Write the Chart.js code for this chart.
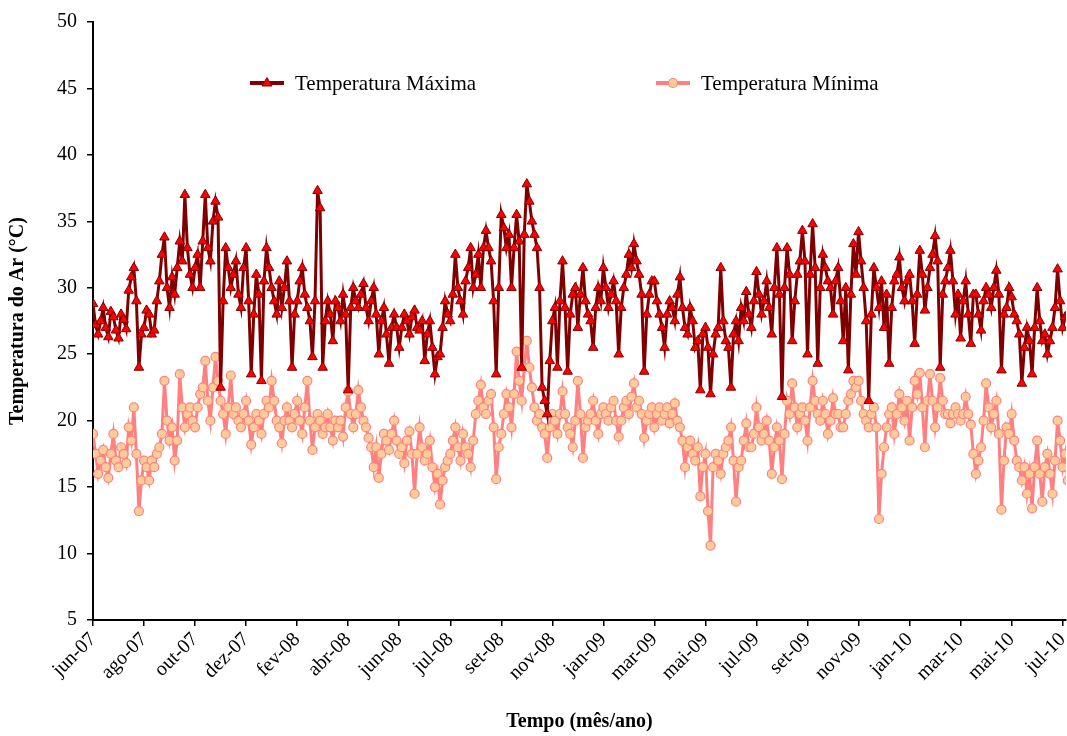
<!DOCTYPE html>
<html>
<head>
<meta charset="utf-8">
<script src="https://cdn.jsdelivr.net/npm/chart.js@4.4.1/dist/chart.umd.min.js"></script>
<style>
  body { margin: 0; background: #fff; }
  #wrap { position: relative; width: 1067px; height: 736px; }
  .leg { position: absolute; top: 71px; height: 24px; display: flex; align-items: center;
         font: 21px 'Liberation Serif', 'Times New Roman', serif; color: #000; white-space: nowrap; }
  .leg svg { margin-right: 9px; }
</style>
</head>
<body>
<div id="wrap">
  <canvas id="chart" width="1067" height="736"></canvas>
  <div class="leg" style="left:250px">
    <svg width="36" height="24"><line x1="0" y1="12" x2="34" y2="12" stroke="#800000" stroke-width="4"/>
      <polygon points="17,6.5 22,15 12,15" fill="#ff0000" stroke="#800000" stroke-width="1"/></svg>Temperatura Máxima
  </div>
  <div class="leg" style="left:656px">
    <svg width="36" height="24"><line x1="0" y1="12" x2="34" y2="12" stroke="#ff8080" stroke-width="4"/>
      <circle cx="17" cy="12" r="4.5" fill="#ffcc99" stroke="#ff8080" stroke-width="1.2"/></svg>Temperatura Mínima
  </div>
</div>
<script>
// tick labels, one every STEP samples
const months = ['jun-07', 'ago-07', 'out-07', 'dez-07', 'fev-08', 'abr-08', 'jun-08', 'jul-08', 'set-08', 'nov-08',
                'jan-09', 'mar-09', 'mai-09', 'jul-09', 'set-09', 'nov-09', 'jan-10', 'mar-10', 'mai-10', 'jul-10'];
const STEP = 20;

// Temperatura Máxima (°C) (20 samples per tick interval)
const tMax = [
  28.8, 27.2, 26.5, 27.5, 28.5, 27.0, 26.3, 28.2, 27.8, 26.8, 26.2, 28.0, 27.6, 26.9, 29.8, 30.8, 31.5, 29.0, 24.0, 26.5,
  27.0, 28.3, 28.0, 26.5, 26.8, 29.0, 30.5, 32.5, 33.8, 30.0, 28.5, 30.8, 29.5, 31.5, 33.5, 32.0, 37.0, 33.0, 31.0, 30.0,
  31.5, 32.5, 30.0, 33.5, 37.0, 33.0, 32.0, 35.0, 36.5, 35.3, 22.5, 29.0, 33.0, 31.5, 30.0, 31.0, 32.0, 29.5, 28.5, 31.5,
  33.0, 29.0, 23.5, 28.0, 31.0, 29.5, 23.0, 30.5, 33.0, 31.5, 30.0, 29.0, 28.0, 30.5, 28.5, 30.0, 32.0, 29.0, 24.0, 28.0,
  29.0, 30.5, 31.5, 29.5, 28.5, 27.5, 24.8, 29.0, 37.3, 36.0, 24.0, 27.5, 29.0, 28.0, 26.0, 29.0, 28.5, 27.5, 29.5, 28.0,
  22.3, 28.5, 30.0, 29.0, 28.5, 29.5, 30.3, 28.5, 27.5, 29.0, 30.0, 28.0, 25.0, 27.5, 28.5, 26.5, 24.3, 27.0, 28.0, 27.0,
  25.5, 27.0, 28.0, 27.5, 26.5, 27.8, 28.3, 27.0, 26.8, 27.5, 24.5, 26.5, 27.5, 25.5, 23.5, 24.8, 25.0, 27.0, 29.0, 28.0,
  27.5, 29.5, 32.5, 30.0, 29.0, 28.0, 30.5, 31.5, 33.0, 30.0, 31.0, 32.5, 30.0, 33.0, 34.3, 33.0, 32.0, 29.0, 23.5, 30.0,
  35.5, 34.5, 33.0, 34.0, 30.0, 33.0, 35.5, 33.5, 24.0, 34.0, 37.8, 36.5, 35.0, 34.0, 33.0, 30.0, 22.5, 21.5, 20.5, 24.5,
  27.5, 28.5, 24.0, 29.0, 32.0, 28.5, 23.7, 28.0, 29.5, 30.0, 27.0, 29.5, 31.5, 29.0, 28.0, 27.5, 25.5, 28.5, 30.0, 29.0,
  31.5, 30.0, 28.5, 29.5, 30.5, 29.0, 25.0, 28.5, 30.0, 31.0, 32.5, 31.5, 33.3, 32.0, 31.0, 29.5, 23.7, 28.0, 29.5, 30.5,
  30.5, 29.0, 28.0, 27.0, 25.5, 28.0, 29.0, 28.5, 27.5, 29.5, 30.8, 28.5, 27.0, 26.5, 28.5, 27.5, 25.5, 26.0, 22.3, 26.5,
  27.0, 25.5, 22.0, 25.0, 26.5, 27.0, 31.5, 27.5, 26.0, 25.5, 22.5, 26.5, 27.5, 26.0, 28.5, 27.5, 29.7, 28.0, 27.0, 29.0,
  31.2, 29.5, 28.0, 29.0, 30.5, 28.5, 26.5, 30.0, 33.0, 29.5, 21.8, 30.0, 33.0, 31.0, 26.0, 29.0, 31.0, 32.0, 34.3, 32.0,
  25.0, 31.0, 34.8, 31.5, 24.3, 30.0, 32.5, 31.5, 30.5, 30.0, 28.0, 30.5, 31.5, 29.0, 26.0, 30.0, 23.8, 29.5, 33.3, 31.0,
  34.2, 32.0, 30.0, 27.5, 21.5, 28.0, 31.5, 30.0, 28.5, 30.5, 27.0, 29.5, 24.3, 28.5, 30.5, 31.0, 32.3, 30.0, 29.0, 30.5,
  31.0, 29.0, 25.8, 29.5, 32.8, 31.0, 28.3, 30.0, 31.5, 32.5, 33.9, 32.0, 24.0, 29.5, 30.5, 31.5, 32.8, 30.5, 28.0, 29.5,
  26.2, 29.0, 30.5, 28.0, 25.8, 29.5, 29.5, 28.0, 26.8, 29.0, 30.0, 29.5, 28.5, 30.0, 31.3, 29.5, 23.8, 28.0, 28.5, 30.0,
  29.3, 28.0, 27.5, 26.5, 22.8, 25.5, 27.0, 26.0, 23.5, 27.0, 30.0, 27.5, 26.0, 26.5, 25.0, 26.0, 27.0, 28.5, 31.4, 29.0,
  27.0, 27.8, 28.0
];

// Temperatura Mínima (°C)
const tMin = [
  19.0, 17.5, 16.0, 17.0, 17.8, 16.5, 15.7, 17.5, 19.0, 17.0, 16.5, 18.0, 17.5, 16.8, 19.5, 18.5, 21.0, 17.5, 13.2, 15.5,
  17.0, 16.5, 15.5, 17.0, 16.5, 17.5, 18.0, 19.0, 23.0, 20.0, 18.5, 19.5, 17.0, 18.5, 23.5, 21.0, 19.5, 20.5, 21.0, 20.0,
  19.5, 21.0, 22.0, 22.5, 24.5, 21.5, 20.0, 22.5, 24.8, 23.0, 21.5, 20.5, 19.0, 21.0, 23.4, 20.5, 21.0, 20.0, 19.5, 20.5,
  21.5, 20.0, 18.2, 19.5, 20.5, 20.0, 19.0, 20.5, 21.5, 21.0, 23.0, 21.5, 20.0, 19.5, 18.3, 20.0, 21.0, 20.0, 19.5, 20.5,
  21.5, 20.0, 19.0, 21.0, 23.0, 20.0, 17.8, 19.5, 20.5, 20.0, 19.0, 19.5, 20.5, 19.5, 18.5, 20.0, 19.5, 20.0, 18.8, 21.0,
  22.2, 20.5, 19.5, 20.5, 22.3, 21.0, 20.0, 19.5, 18.7, 18.0, 16.5, 18.0, 15.7, 17.5, 19.0, 18.5, 17.8, 19.0, 20.0, 18.5,
  17.5, 18.0, 16.8, 18.5, 19.2, 17.5, 14.5, 17.5, 19.5, 18.0, 17.0, 17.5, 18.5, 16.5, 15.0, 16.0, 13.7, 15.5, 16.5, 17.0,
  17.5, 18.5, 19.5, 18.0, 17.0, 19.0, 18.0, 17.5, 16.5, 18.5, 20.5, 21.5, 22.7, 21.0, 20.5, 21.5, 22.0, 19.5, 15.6, 18.0,
  19.0, 20.5, 22.0, 21.0, 19.5, 22.0, 25.2, 23.0, 21.5, 24.0, 26.0, 24.0, 22.5, 21.0, 20.0, 20.5, 19.5, 19.0, 17.2, 19.5,
  20.5, 20.0, 19.0, 20.5, 22.2, 20.5, 19.5, 19.0, 18.0, 20.0, 23.0, 20.5, 17.2, 19.5, 20.0, 20.5, 21.5, 20.0, 19.0, 20.5,
  21.0, 20.5, 20.0, 21.0, 21.5, 20.0, 18.8, 20.0, 21.0, 21.5, 20.5, 21.8, 22.8, 21.0, 21.5, 20.5, 18.7, 20.0, 20.5, 21.0,
  19.5, 20.5, 21.0, 20.0, 20.5, 21.0, 19.8, 20.5, 21.3, 20.0, 19.5, 18.5, 16.5, 18.0, 18.5, 17.5, 17.0, 18.0, 14.3, 16.5,
  17.5, 13.2, 10.6, 16.5, 17.5, 17.0, 16.0, 17.5, 18.0, 18.5, 19.5, 17.0, 13.9, 16.5, 17.0, 18.5, 19.8, 18.0, 18.0, 19.0,
  21.0, 19.5, 18.5, 19.0, 20.0, 18.5, 16.0, 18.0, 19.5, 18.5, 15.6, 19.0, 21.5, 20.5, 22.8, 21.0, 19.5, 20.5, 21.0, 20.0,
  18.5, 21.0, 23.0, 21.5, 20.5, 20.0, 21.5, 20.5, 19.0, 20.0, 21.7, 20.5, 20.5, 19.5, 19.5, 20.5, 21.5, 22.0, 23.0, 22.5,
  23.0, 21.5, 20.5, 20.0, 19.5, 20.5, 21.0, 19.5, 12.6, 16.0, 18.0, 19.5, 20.5, 21.0, 19.0, 20.5, 22.0, 21.0, 20.0, 21.5,
  18.5, 21.0, 23.0, 22.0, 23.6, 21.0, 18.0, 21.5, 23.5, 21.5, 19.5, 21.0, 23.2, 21.5, 20.5, 20.5, 19.8, 20.5, 21.0, 20.5,
  20.0, 20.5, 21.8, 20.5, 19.7, 17.5, 16.0, 17.0, 18.0, 20.0, 22.8, 21.0, 19.5, 20.5, 21.5, 19.0, 13.3, 17.0, 19.5, 19.0,
  20.5, 18.5, 17.0, 16.5, 15.5, 16.5, 14.5, 16.0, 13.4, 16.5, 18.5, 16.0, 13.9, 16.5, 17.5, 16.0, 14.5, 17.0, 20.0, 18.5,
  16.5, 17.5, 15.5
];

const FONT = "'Liberation Serif', 'Times New Roman', serif";
const toPoints = arr => arr.map((v, i) => ({ x: i, y: v }));

new Chart(document.getElementById('chart'), {
    type: 'line',
    data: {
        datasets: [{
            label: 'Temperatura Máxima',
            data: toPoints(tMax),
            borderColor: '#800000', borderWidth: 3,
            pointStyle: 'triangle', pointRadius: 5.5,
            pointBackgroundColor: '#ff0000', pointBorderColor: '#800000', pointBorderWidth: 1,
            tension: 0
        }, {
            label: 'Temperatura Mínima',
            data: toPoints(tMin),
            borderColor: '#ff8080', borderWidth: 3,
            pointStyle: 'circle', pointRadius: 4.5,
            pointBackgroundColor: '#ffcc99', pointBorderColor: '#ff8080', pointBorderWidth: 1.2,
            tension: 0
        }]
    },
    options: {
        responsive: false,
        animation: false,
        devicePixelRatio: 1,
        layout: { autoPadding: false, padding: { top: 18, right: 1, left: 0, bottom: 0 } },
        plugins: { legend: { display: false }, tooltip: { enabled: false } },
        scales: {
            x: {
                type: 'linear',
                min: 0,
                max: 19.065 * STEP,
                afterBuildTicks: s => { s.ticks = months.map((m, i) => ({ value: i * STEP })); },
                afterFit: s => { s.height = 116; s.paddingRight = 0; s.paddingLeft = 0; },
                ticks: {
                    autoSkip: false, maxRotation: 45, minRotation: 45, padding: 2,
                    color: '#000', font: { family: FONT, size: 20 },
                    callback: v => months[Math.round(v / STEP)]
                },
                grid: { drawOnChartArea: false, drawTicks: true, tickLength: 6, color: '#000', lineWidth: 1.5 },
                border: { color: '#000', width: 2 },
                title: {
                    display: true, text: 'Tempo (mês/ano)', color: '#000',
                    font: { family: FONT, size: 20, weight: 'bold' }, padding: { top: 0, bottom: 2 }
                }
            },
            y: {
                min: 5,
                max: 50,
                afterFit: s => { s.width = 93; },
                ticks: { stepSize: 5, padding: 10, color: '#000', font: { family: FONT, size: 20 } },
                grid: { drawOnChartArea: false, drawTicks: true, tickLength: 6, color: '#000', lineWidth: 1.5 },
                border: { color: '#000', width: 2 },
                title: {
                    display: true, text: 'Temperatura do Ar (°C)', color: '#000',
                    font: { family: FONT, size: 20, weight: 'bold' }, padding: { top: 6, bottom: 0 }
                }
            }
        }
    }
});
</script>
</body>
</html>
